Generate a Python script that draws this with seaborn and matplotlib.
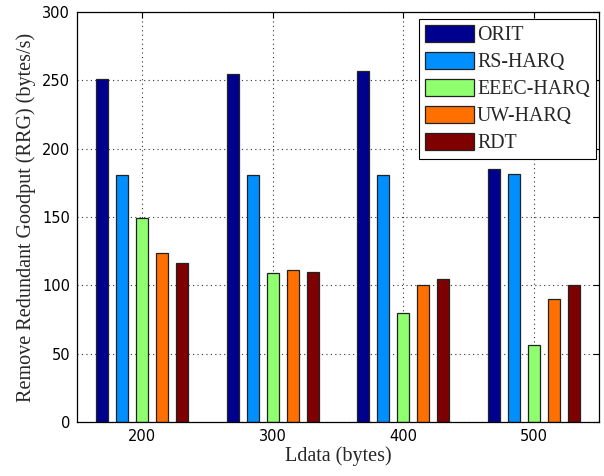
import matplotlib
matplotlib.use("Agg")
import matplotlib.pyplot as plt
import seaborn as sns
import pandas as pd

categories = ["200", "300", "400", "500"]
series_names = ["ORIT", "RS-HARQ", "EEEC-HARQ", "UW-HARQ", "RDT"]
orit = [251, 254.5, 257, 185]
rs_harq = [181, 181, 181, 181.5]
eeec_harq = [149, 109, 80, 56]
uw_harq = [123.5, 111, 100, 90]
rdt = [116.5, 109.5, 104.5, 100]
colors = ["#00008F", "#008FFF", "#8FFF70", "#FF7000", "#7F0000"]
y_ticks = [0, 50, 100, 150, 200, 250, 300]

values = [orit, rs_harq, eeec_harq, uw_harq, rdt]
rows = []
for name, vals in zip(series_names, values):
    for c, v in zip(categories, vals):
        rows.append({"Ldata": c, "value": v, "method": name})
df = pd.DataFrame(rows)

sns.set_style("white")
plt.rcParams["font.family"] = ["DejaVu Sans"]

fig = plt.figure(figsize=(6.04, 4.76), dpi=100)
ax = fig.add_axes([0.1275, 0.1134, 0.8642, 0.8616])

sns.barplot(data=df, x="Ldata", y="value", hue="method", order=categories,
            hue_order=series_names, palette=colors, width=0.77, gap=0.4,
            edgecolor="#222222", linewidth=0.9, saturation=1, errorbar=None, ax=ax)

ax.set_xlim(-0.5, 3.5)
ax.set_ylim(0, 300)
ax.set_yticks(y_ticks)
ax.grid(True, linestyle=(0, (1, 3)), color="#333333", linewidth=0.8)
ax.set_axisbelow(True)
for s in ax.spines.values():
    s.set_color("black")
    s.set_linewidth(0.9)
ax.tick_params(direction="in", length=4, width=0.8, labelsize=10.5, colors="black",
               top=True, right=True, pad=5)
ax.set_xlabel("Ldata (bytes)", family="Liberation Serif", fontsize=14.5, labelpad=2)
ax.set_ylabel("Remove Redundant Goodput (RRG) (bytes/s)", family="Liberation Serif",
              fontsize=14.5, labelpad=4)

handles, labels = ax.get_legend_handles_labels()
leg = ax.legend(handles, labels, loc="upper right", bbox_to_anchor=(0.994, 0.983),
                prop={"family": "Liberation Serif", "size": 14.3},
                handlelength=2.45, handleheight=0.95, handletextpad=0.15,
                labelspacing=0.33, borderpad=0.3, borderaxespad=0.0,
                fancybox=False, framealpha=1, edgecolor="black")
leg.get_frame().set_linewidth(0.8)

fig.savefig("out.png", dpi=100)
